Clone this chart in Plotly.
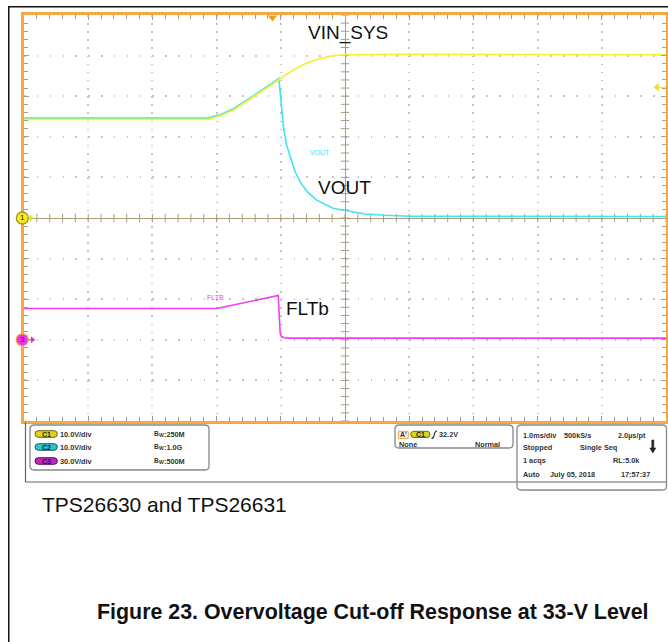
import plotly.graph_objects as go

# ---------------- data (read from the scope capture) ----------------
TIME_DIV_MS = 1.0                 # 1.0 ms/div, 10 divisions
CH1_V_DIV = 10.0                  # VIN_SYS
CH2_V_DIV = 10.0                  # VOUT
CH3_V_DIV = 30.0                  # FLTb
CH3_OFFSET_DIV = -3               # ch3 ground marker three divisions below centre
TRIG_TIME_MS = -1.13
TRIG_LEVEL_V = 32.2

vin_t = [-5.0, -2.13, -1.95, -1.74, -1.40, -1.02, -0.80, -0.60, -0.39, -0.19, 0.03, 1.0, 2.0, 3.0, 4.0, 5.0]
vin_v = [24.3, 24.3, 25.1, 26.6, 30.1, 34.2, 36.5, 38.1, 39.3, 40.0, 40.2, 40.3, 40.3, 40.3, 40.2, 40.2]

vout_t = [-5.0, -2.13, -1.95, -1.74, -1.40, -1.03, -1.01, -0.99, -0.96, -0.91, -0.857, -0.78, -0.70,
          -0.58, -0.44, -0.30, -0.187, 0.026, 0.31, 0.62, 1.01, 2.0, 3.0, 4.0, 5.0]
vout_v = [24.6, 24.6, 25.4, 26.9, 30.4, 34.4, 31.0, 27.0, 22.5, 18.0, 15.1, 11.5, 8.9,
          6.3, 4.4, 3.2, 2.4, 1.8, 1.0, 0.67, 0.44, 0.40, 0.38, 0.38, 0.37]

flt_t = [-5.0, -2.0, -1.04, -1.025, -1.01, -0.99, -0.95, -0.90, 5.0]
flt_v = [23.1, 23.1, 32.7, 15.0, 5.0, 2.4, 1.5, 1.25, 1.25]

# ---------------- geometry helpers (page pixels) ----------------
OFF = 0
W, H = 668, 642
PX0, PX1, PY0, PY1 = 24, 666, 15, 421

def fx(px):
    return (px - OFF) / W

def fy(py):
    return 1 - (py - OFF) / H

def P(px, py):
    return f"{fx(px):.5f},{fy(py):.5f}"

def rrect(x0, y0, x1, y1, r):
    return (f"M{P(x0 + r, y0)} L{P(x1 - r, y0)} Q{P(x1, y0)} {P(x1, y0 + r)} "
            f"L{P(x1, y1 - r)} Q{P(x1, y1)} {P(x1 - r, y1)} L{P(x0 + r, y1)} "
            f"Q{P(x0, y1)} {P(x0, y1 - r)} L{P(x0, y0 + r)} Q{P(x0, y0)} {P(x0 + r, y0)} Z")

FONT = "Liberation Sans, Arial, sans-serif"
YEL, CYA, MAG = "#f2f230", "#3ee4ee", "#f23cf2"
ORANGE, TAN, GRID = "#f5a840", "#ab9c80", "#c4c4c4"

fig = go.Figure()

# graticule centre-line ticks
xt = [i * 0.2 * TIME_DIV_MS for i in range(-25, 26)]
yt = [i * 0.2 * CH1_V_DIV for i in range(-25, 26)]
fig.add_trace(go.Scatter(x=xt, y=[0] * len(xt), mode="markers", hoverinfo="skip",
                         marker=dict(symbol="line-ns", size=6, line=dict(color=TAN, width=1))))
fig.add_trace(go.Scatter(x=[0] * len(yt), y=yt, mode="markers", hoverinfo="skip",
                         marker=dict(symbol="line-ew", size=6, line=dict(color=TAN, width=1))))

# waveforms
fig.add_trace(go.Scatter(x=vout_t, y=vout_v, mode="lines", line=dict(color=CYA, width=1.6), yaxis="y"))
fig.add_trace(go.Scatter(x=vin_t, y=vin_v, mode="lines", line=dict(color=YEL, width=1.6), yaxis="y"))
fig.add_trace(go.Scatter(x=flt_t, y=flt_v, mode="lines", line=dict(color=MAG, width=1.6), yaxis="y2"))

# channel ground arrows
fig.add_trace(go.Scatter(x=[-4.89], y=[0], mode="markers", cliponaxis=False,
                         marker=dict(symbol="triangle-right", size=6, color="#e8e020")))
fig.add_trace(go.Scatter(x=[-4.97, -4.87], y=[0, 0], mode="lines", cliponaxis=False, yaxis="y2",
                         line=dict(color="#e030e0", width=1.2)))
fig.add_trace(go.Scatter(x=[-4.87], y=[0], mode="markers", cliponaxis=False, yaxis="y2",
                         marker=dict(symbol="triangle-right", size=6, color="#e030e0")))

# trigger position and level markers
fig.add_trace(go.Scatter(x=[TRIG_TIME_MS], y=[49.4], mode="markers", cliponaxis=False,
                         marker=dict(symbol="triangle-down", size=8, color="#f09a20")))
fig.add_trace(go.Scatter(x=[4.88, 5.0], y=[TRIG_LEVEL_V, TRIG_LEVEL_V], mode="lines", cliponaxis=False,
                         line=dict(color="#e8e020", width=1)))
fig.add_trace(go.Scatter(x=[4.86], y=[TRIG_LEVEL_V], mode="markers", cliponaxis=False,
                         marker=dict(symbol="triangle-left", size=7, color="#e8e020")))

# ---------------- annotations & shapes ----------------
ann = []
shapes = []

def txt(x, y, s, size, color="#111", xref="x", yref="y", xanchor="left", bold=False):
    ann.append(dict(x=x, y=y, xref=xref, yref=yref, text=(f"<b>{s}</b>" if bold else s), showarrow=False,
                    xanchor=xanchor, yanchor="middle", font=dict(family=FONT, size=size, color=color),
                    borderpad=0))

txt(-0.595, 45.5, "VIN_SYS", 19)
txt(-0.44, 7.4, "VOUT", 19)
txt(-0.935, -22.2, "FLTb", 19)
txt(-0.56, 16.2, "VOUT", 7, color=CYA)
txt(-2.17, -19.5, "FLTB", 7, color=MAG)

# channel ground circles (left of the graticule, at each channel's 0 V)
for yref, num, fc, lc in [("y", "1", "#f0ea20", "#a09a20"), ("y2", "3", "#f030f0", "#f0a040")]:
    shapes.append(dict(type="circle", xref="paper", yref=yref, xsizemode="scaled", ysizemode="pixel",
                       yanchor=0, x0=fx(16.3), x1=fx(28.3), y0=-6, y1=6,
                       fillcolor=fc, line=dict(color=lc, width=1.3), layer="above"))
    txt(fx(22.3), 0, num, 8, color="#333", xref="paper", yref=yref, xanchor="center")

def path(d, line="#777", width=1.2, fill=None):
    shapes.append(dict(type="path", path=d, xref="paper", yref="paper",
                       line=dict(color=line, width=width), fillcolor=fill if fill else "rgba(0,0,0,0)"))

def ptxt(px, py, s, size=7.3, anchor="left", color="#333"):
    txt(fx(px), fy(py), s, size, color=color, xref="paper", yref="paper", xanchor=anchor, bold=True)

# outer document frame
path(f"M{P(8.75, 642)} L{P(8.75, 6.75)} L{P(668, 6.75)}", line="#111", width=1.5)
# panel outline
path(f"M{P(25.5, 422)} L{P(25.5, 482)} L{P(667, 482)}", line="#666", width=1.2)
# boxes
path(rrect(30, 425, 209, 470, 4), line="#888", width=1.3)
path(rrect(395, 425, 513, 448, 4), line="#888", width=1.3)
path(rrect(517, 425, 666.5, 490, 4), line="#888", width=1.3)

pills = [("C1", "#dcd41c", "#6a6510", 434), ("C2", "#2cc4cc", "#106466", 447), ("C3", "#c424c4", "#5e105e", 461)]
scales = ["10.0V/div", "10.0V/div", "30.0V/div"]
bws = ["250M", "1.0G", "500M"]
for (name, fc, lc, yy), sc, bw in zip(pills, scales, bws):
    path(rrect(35, yy - 3.3, 57.3, yy + 3.3, 3.3), line=lc, width=1, fill=fc)
    ptxt(46.2, yy, name, size=7, anchor="center", color="#222")
    ptxt(59, yy, sc)
    ptxt(152.5, yy - 1, "B", size=6.5)
    ptxt(157.6, yy + 1.2, "W", size=5)
    ptxt(162.6, yy, f":{bw}")

# trigger box
path(rrect(398.3, 431.3, 408.3, 438.5, 0.5), line="#f0a040", width=1, fill="#f6f0e4")
ptxt(403.3, 434.8, "A'", size=7, anchor="center", color="#333")
path(rrect(410.7, 431.3, 430, 437.5, 3.1), line="#6a6510", width=1, fill="#dcd41c")
ptxt(420.3, 434.4, "C1", size=7, anchor="center", color="#222")
path(f"M{P(431.5, 438.5)} Q{P(433.5, 438.5)} {P(434.2, 434.8)} Q{P(435, 431)} {P(437, 431)}", line="#222", width=1.1)
ptxt(438, 434.6, "32.2V")
ptxt(398.3, 444.7, "None")
ptxt(501, 444.7, "Normal", anchor="right")

# acquisition box
ptxt(521.7, 435, "1.0ms/div")
ptxt(563.3, 435, "500kS/s")
ptxt(616.7, 435, "2.0µs/pt")
ptxt(521.7, 447.3, "Stopped")
ptxt(579, 447.3, "Single Seq")
path(f"M{P(651.8, 440)} L{P(653.8, 440)} L{P(653.8, 448)} L{P(655.8, 448)} L{P(652.8, 453)} "
     f"L{P(649.8, 448)} L{P(651.8, 448)} Z", line="#222", width=0.6, fill="#222")
ptxt(521.7, 460.7, "1 acqs")
ptxt(611.7, 460.7, "RL:5.0k")
ptxt(521.7, 474, "Auto")
ptxt(549, 474, "July 05, 2018")
ptxt(650.5, 474, "17:57:37", anchor="right")

# captions below the capture
txt(fx(40.5), fy(504), "TPS26630 and TPS26631", 21, xref="paper", yref="paper")
txt(fx(96), fy(611.5), "<b>Figure 23. Overvoltage Cut-off Response at 33-V Level</b>", 21.4, xref="paper", yref="paper")

# ---------------- layout ----------------
minor_x = dict(dtick=0.2 * TIME_DIV_MS, ticks="inside", ticklen=4, tickcolor=TAN, tickwidth=1, showgrid=False)
minor_y = dict(dtick=0.2 * CH1_V_DIV, ticks="inside", ticklen=4, tickcolor=TAN, tickwidth=1, showgrid=False)

fig.update_layout(
    width=W, height=H, margin=dict(l=0, r=0, t=0, b=0),
    paper_bgcolor="white", plot_bgcolor="white", showlegend=False,
    xaxis=dict(range=[-5 * TIME_DIV_MS, 5 * TIME_DIV_MS], domain=[fx(PX0), fx(PX1)],
               dtick=TIME_DIV_MS, tick0=0, showticklabels=False,
               showgrid=True, gridcolor=GRID, gridwidth=1.5, griddash="1.5px,6.62px",
               zeroline=True, zerolinecolor=TAN, zerolinewidth=1.3,
               showline=True, linecolor=ORANGE, linewidth=3, mirror="ticks",
               ticks="inside", ticklen=5, tickcolor=TAN, tickwidth=1, minor=minor_x, fixedrange=True),
    yaxis=dict(range=[-5 * CH1_V_DIV, 5 * CH1_V_DIV], domain=[fy(PY1), fy(PY0)],
               dtick=CH1_V_DIV, tick0=0, showticklabels=False,
               showgrid=True, gridcolor=GRID, gridwidth=1.5, griddash="1.5px,11.34px",
               zeroline=True, zerolinecolor=TAN, zerolinewidth=1.3,
               showline=True, linecolor=ORANGE, linewidth=3, mirror="ticks",
               ticks="inside", ticklen=5, tickcolor=TAN, tickwidth=1, minor=minor_y, fixedrange=True),
    yaxis2=dict(range=[(-5 - CH3_OFFSET_DIV) * CH3_V_DIV, (5 - CH3_OFFSET_DIV) * CH3_V_DIV],
                overlaying="y", anchor="x", visible=False, fixedrange=True),
    annotations=ann, shapes=shapes,
)

fig.write_html("out.html", config={"displayModeBar": False},
               post_script="document.body.style.margin='0';document.body.style.overflow='hidden';")
